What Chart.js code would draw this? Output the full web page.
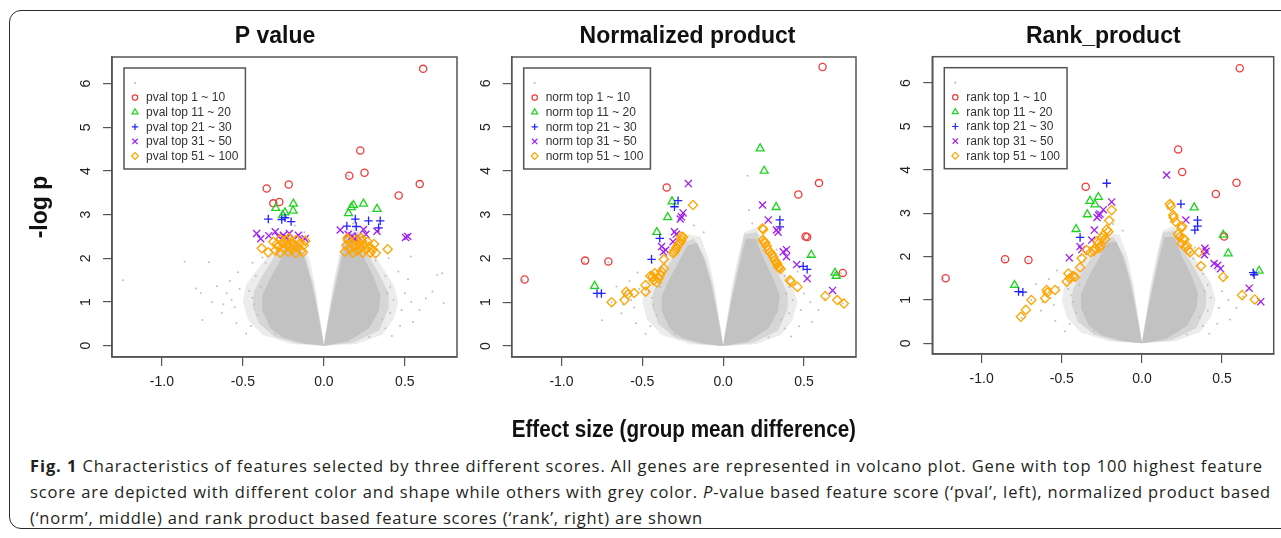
<!DOCTYPE html>
<html>
<head>
<meta charset="utf-8">
<script src="https://cdn.jsdelivr.net/npm/chart.js@4.4.1/dist/chart.umd.min.js"></script>
<style>
body { margin: 0; background: #fff; width: 1281px; height: 538px; overflow: hidden; position: relative; }
#frame { position: absolute; left: 9px; top: 10px; width: 1300px; height: 519px; border: 1.5px solid #2a2a2a; border-radius: 12px; box-sizing: border-box; }
canvas { position: absolute; top: 0; }
.cap { position: absolute; left: 30px; white-space: nowrap; font-family: "Open Sans", sans-serif; font-size: 16.5px; line-height: 20px; color: #231f20; }
</style>
</head>
<body>
<div id="frame"></div>
<canvas id="c1" width="470" height="450" style="left:0"></canvas>
<canvas id="c2" width="400" height="450" style="left:470px"></canvas>
<canvas id="c3" width="411" height="450" style="left:870px"></canvas>
<div class="cap" id="l1" style="top:456px"><b>Fig. 1</b> Characteristics of features selected by three different scores. All genes are represented in volcano plot. Gene with top 100 highest feature</div>
<div class="cap" id="l2" style="top:482px">score are depicted with different color and shape while others with grey color. <i>P</i>-value based feature score (‘pval’, left), normalized product based</div>
<div class="cap" id="l3" style="top:508px">(‘norm’, middle) and rank product based feature scores (‘rank’, right) are shown</div>
<script>
// ---- DATA ----
const ranges = ["1 ~ 10", "11 ~ 20", "21 ~ 30", "31 ~ 50", "51 ~ 100"];
const titles = ["P value", "Normalized product", "Rank_product"];
const prefixes = ["pval top", "norm top", "rank top"];
const xTicks = [-1.0, -0.5, 0.0, 0.5];
const yTicks = [0, 1, 2, 3, 4, 5, 6];

// grey cloud of all genes: outlines of the dense core, a middle band, the sparse halo, and loose dots
const coreLeft = [[0,0],[-0.12,0.05],[-0.25,0.18],[-0.33,0.4],[-0.38,0.8],[-0.38,1.15],[-0.33,1.55],[-0.27,1.95],[-0.22,2.3],[-0.16,2.35],[-0.12,2.0],[-0.08,1.5],[-0.05,1.0],[-0.025,0.5],[0,0]];
const coreRight = [[0,0],[0.025,0.5],[0.05,1.0],[0.08,1.5],[0.11,2.0],[0.14,2.45],[0.2,2.45],[0.25,2.0],[0.31,1.55],[0.35,1.15],[0.34,0.8],[0.28,0.4],[0.15,0.1],[0,0]];
const midLeft = [[0,0],[-0.16,0.05],[-0.3,0.2],[-0.4,0.5],[-0.44,0.9],[-0.43,1.25],[-0.38,1.6],[-0.32,1.95],[-0.26,2.35],[-0.18,2.45],[-0.11,2.0],[-0.065,1.4],[-0.035,0.8],[-0.01,0.3],[0,0]];
const midRight = [[0,0],[0.01,0.3],[0.035,0.8],[0.065,1.4],[0.10,2.0],[0.13,2.55],[0.21,2.6],[0.26,2.15],[0.34,1.65],[0.4,1.2],[0.4,0.85],[0.34,0.35],[0.18,0.07],[0,0]];
const haloLeft = [[0,0],[-0.2,0.04],[-0.38,0.25],[-0.47,0.6],[-0.5,1.0],[-0.48,1.4],[-0.40,1.8],[-0.30,2.25],[-0.22,2.55],[-0.14,2.5],[-0.09,2.0],[-0.05,1.3],[-0.02,0.5],[0,0]];
const haloRight = [[0,0],[0.02,0.5],[0.05,1.3],[0.09,2.0],[0.13,2.6],[0.2,2.7],[0.27,2.3],[0.36,1.8],[0.43,1.4],[0.46,1.0],[0.43,0.6],[0.36,0.25],[0.2,0.04],[0,0]];
const cloudDots = [[-1.24,1.5],[-0.86,1.92],[-0.71,1.91],[-0.79,1.31],[-0.76,1.2],[-0.69,1.0],[-0.75,0.59],[-0.60,1.2],[-0.63,0.75],[-0.57,1.05],[-0.55,0.88],[-0.66,1.36],[-0.58,1.48],[-0.53,1.68],[-0.54,0.52],[-0.48,0.28],[-0.62,0.95],[-0.52,1.3],
  [0.536,2.04],[0.63,1.08],[0.67,1.24],[0.70,1.62],[0.73,1.66],[0.74,0.97],[0.59,0.82],[0.55,0.55],[0.48,0.82],[0.50,1.2],[0.52,1.52],[0.54,1.0],[0.47,0.45],[0.42,0.22],[0.46,1.7],[0.40,2.0],
  [-0.38,2.02],[-0.44,1.9],[-0.33,2.2],[0.33,2.2],[0.18,2.8],[-0.12,2.6],[0.151,3.89],[0.16,3.1],[-0.18,2.75],
  [-0.45,0.45],[-0.43,0.95],[-0.46,1.25],[-0.42,1.6],[-0.36,1.9],[-0.41,0.7],[-0.44,1.1],[-0.39,1.35],[-0.35,2.05],[-0.27,2.4],[-0.3,0.28],
  [0.38,0.4],[0.41,0.75],[0.43,1.05],[0.41,1.35],[0.38,1.6],[0.32,1.95],[0.3,2.1],[0.24,2.5],[0.39,1.2],[0.36,0.6],[0.28,0.2]];

// P value panel
const pvalTop10 = [[0.613,6.34],[0.225,4.47],[0.251,3.96],[0.157,3.89],[0.592,3.70],[0.462,3.44],[-0.217,3.69],[-0.353,3.60],[-0.275,3.29],[-0.312,3.26]];
const pvalTop20 = [[-0.188,3.25],[-0.297,3.15],[-0.24,3.05],[-0.19,3.09],[-0.254,2.99],[0.183,3.22],[0.245,3.25],[0.328,3.13],[0.152,3.03],[0.17,3.17]];
const pvalTop30 = [[-0.343,2.90],[-0.26,2.89],[-0.202,2.84],[-0.24,2.93],[0.194,2.90],[0.142,2.74],[0.2,2.73],[0.276,2.86],[0.348,2.86],[0.338,2.70]];
const pvalTop50 = [[-0.415,2.57],[-0.39,2.45],[-0.30,2.61],[-0.213,2.57],[-0.157,2.53],[-0.116,2.45],[-0.25,2.53],[-0.28,2.50],[-0.23,2.47],[-0.34,2.52],
  [0.101,2.65],[0.245,2.66],[0.328,2.62],[0.173,2.51],[0.21,2.50],[0.504,2.48],[0.518,2.50],[0.15,2.55],[0.26,2.55],[0.19,2.45]];
const pvalTop100 = [[-0.384,2.23],[-0.343,2.14],[-0.312,2.38],[-0.281,2.27],[-0.30,2.18],[-0.27,2.13],[-0.255,2.35],[-0.245,2.22],[-0.235,2.42],[-0.228,2.30],[-0.22,2.15],[-0.21,2.26],[-0.2,2.38],
  [-0.195,2.2],[-0.185,2.3],[-0.175,2.12],[-0.17,2.42],[-0.16,2.25],[-0.15,2.34],[-0.14,2.18],[-0.125,2.3],[-0.115,2.4],[-0.27,2.44],[-0.29,2.33],[-0.215,2.46],[-0.13,2.14],
  [0.394,2.21],[0.287,2.13],[0.13,2.15],[0.14,2.3],[0.15,2.42],[0.16,2.22],[0.17,2.35],[0.18,2.13],[0.19,2.28],[0.2,2.42],[0.205,2.18],[0.215,2.33],[0.225,2.24],[0.235,2.4],
  [0.24,2.13],[0.25,2.3],[0.26,2.2],[0.27,2.38],[0.28,2.27],[0.3,2.2],[0.31,2.33],[0.145,2.46],[0.23,2.47],[0.32,2.12]];

// Normalized product panel
const normTop10 = [[0.615,6.37],[0.593,3.72],[0.465,3.46],[0.51,2.5],[0.52,2.49],[0.74,1.67],[-0.349,3.62],[-0.854,1.95],[-0.71,1.93],[-1.228,1.52]];
const normTop20 = [[0.229,4.51],[0.254,4.0],[0.328,3.17],[0.545,2.08],[0.692,1.67],[0.70,1.60],[-0.316,3.3],[-0.343,2.94],[-0.41,2.6],[-0.795,1.37]];
const normTop30 = [[0.351,2.88],[0.351,2.72],[0.495,1.82],[0.52,1.75],[-0.279,3.32],[-0.301,3.18],[-0.392,2.46],[-0.443,1.98],[-0.78,1.2],[-0.753,1.2]];
const normTop50 = [[0.244,3.22],[0.279,2.88],[0.33,2.65],[0.372,2.15],[0.392,2.2],[0.392,2.04],[0.455,1.86],[0.52,1.54],[0.677,1.27],[0.34,2.6],
  [-0.215,3.71],[-0.248,3.04],[-0.258,2.95],[-0.265,2.9],[-0.301,2.61],[-0.31,2.38],[-0.381,2.27],[-0.355,2.19],[-0.37,2.15],[-0.29,2.55]];
const normTop100 = [[0.244,2.69],[0.248,2.66],[0.245,2.42],[0.255,2.38],[0.26,2.35],[0.27,2.28],[0.279,2.19],[0.29,2.14],[0.30,2.1],[0.31,2.03],[0.32,1.96],
  [0.328,1.91],[0.335,1.87],[0.341,1.81],[0.347,1.79],[0.355,1.76],[0.413,1.5],[0.42,1.47],[0.46,1.35],[0.632,1.14],[0.706,1.05],[0.747,0.97],
  [-0.186,3.22],[-0.248,2.49],[-0.258,2.42],[-0.26,2.5],[-0.265,2.37],[-0.272,2.34],[-0.28,2.3],[-0.289,2.25],[-0.295,2.2],[-0.301,2.15],[-0.31,2.12],[-0.367,1.98],
  [-0.367,1.77],[-0.38,1.7],[-0.423,1.66],[-0.436,1.58],[-0.40,1.54],[-0.43,1.5],[-0.45,1.6],[-0.48,1.39],[-0.48,1.24],[-0.55,1.21],[-0.6,1.24],[-0.59,1.18],
  [-0.61,1.05],[-0.69,1.0],[-0.41,1.45],[-0.39,1.62]];

// Rank product panel
const rankTop10 = [[0.61,6.34],[0.226,4.47],[0.251,3.95],[0.59,3.7],[0.461,3.44],[0.513,2.46],[-0.351,3.61],[-0.854,1.94],[-0.708,1.92],[-1.225,1.5]];
const rankTop20 = [[0.326,3.13],[0.507,2.5],[0.538,2.07],[0.731,1.67],[-0.324,3.28],[-0.272,3.37],[-0.293,3.2],[-0.341,2.97],[-0.411,2.63],[-0.795,1.34]];
const rankTop30 = [[-0.22,3.69],[0.243,3.21],[0.347,2.84],[0.33,2.61],[0.347,2.7],[0.694,1.63],[0.70,1.58],[-0.386,2.44],[-0.77,1.19],[-0.743,1.18]];
const rankTop50 = [[0.154,3.88],[0.274,2.84],[0.393,2.19],[0.39,2.04],[0.45,1.84],[0.473,1.8],[0.49,1.72],[0.669,1.27],[0.741,0.96],[0.4,2.12],
  [-0.189,3.26],[-0.241,3.08],[-0.262,2.98],[-0.27,2.95],[-0.297,2.61],[-0.313,2.38],[-0.386,2.23],[-0.375,2.16],[-0.453,1.97],[-0.28,2.9]];
const rankTop100 = [[0.174,3.21],[0.18,3.16],[0.195,2.95],[0.198,2.9],[0.246,2.66],[0.25,2.7],[0.225,2.52],[0.257,2.41],[0.265,2.39],[0.246,2.3],[0.27,2.22],
  [0.28,2.25],[0.3,2.1],[0.355,2.1],[0.368,1.78],[0.507,1.53],[0.625,1.11],[0.704,1.01],[0.235,2.45],[0.29,2.15],[0.21,2.8],
  [-0.189,3.07],[-0.204,2.83],[-0.21,2.57],[-0.241,2.5],[-0.25,2.43],[-0.272,2.3],[-0.26,2.25],[-0.293,2.19],[-0.3,2.13],[-0.345,2.15],[-0.376,1.96],[-0.386,1.75],
  [-0.417,1.53],[-0.459,1.61],[-0.45,1.5],[-0.469,1.42],[-0.542,1.23],[-0.594,1.23],[-0.59,1.17],[-0.604,1.04],[-0.69,1.0],[-0.724,0.77],[-0.755,0.61],
  [-0.28,2.35],[-0.265,2.2],[-0.32,2.1],[-0.23,2.4],[-0.22,2.62],[-0.43,1.55]];

// ---- STYLE ----
const FONT = '"Liberation Sans", Arial, sans-serif';
const GREY = "#bebebe";
const marks = [
    { style: "circle",   color: "#f03a3a", r: 3.6 },
    { style: "triangle", color: "#1fd41f", r: 4.6 },
    { style: "cross",    color: "#2222ff", r: 4.2 },
    { style: "crossRot", color: "#a020f0", r: 5 },
    { style: "rectRot",  color: "#ffa500", r: 4.6 }
];

const toXY = arr => arr.map(p => ({ x: p[0], y: p[1] }));

function shape(arr, color, order) {
    return { data: toXY(arr), showLine: true, fill: "shape", backgroundColor: color,
             borderColor: "rgba(0,0,0,0)", borderWidth: 0, pointRadius: 0, tension: 0, order: order };
}

// legend symbol
function drawSym(ctx, style, x, y, r, color) {
    ctx.save();
    ctx.strokeStyle = color;
    ctx.fillStyle = color;
    ctx.lineWidth = 1.2;
    ctx.beginPath();
    if (style === "dot") {
        ctx.arc(x, y, r, 0, 2 * Math.PI);
        ctx.fill();
    } else if (style === "circle") {
        ctx.arc(x, y, r, 0, 2 * Math.PI);
        ctx.stroke();
    } else if (style === "triangle") {
        ctx.moveTo(x, y - r);
        ctx.lineTo(x + r * 0.866, y + r * 0.5);
        ctx.lineTo(x - r * 0.866, y + r * 0.5);
        ctx.closePath();
        ctx.stroke();
    } else if (style === "cross") {
        ctx.moveTo(x - r, y); ctx.lineTo(x + r, y);
        ctx.moveTo(x, y - r); ctx.lineTo(x, y + r);
        ctx.stroke();
    } else if (style === "crossRot") {
        const d = r * 0.707;
        ctx.moveTo(x - d, y - d); ctx.lineTo(x + d, y + d);
        ctx.moveTo(x + d, y - d); ctx.lineTo(x - d, y + d);
        ctx.stroke();
    } else {
        ctx.moveTo(x - r, y); ctx.lineTo(x, y - r); ctx.lineTo(x + r, y); ctx.lineTo(x, y + r);
        ctx.closePath();
        ctx.stroke();
    }
    ctx.restore();
}

// box, rotated y labels, panel title and legend, R style
const deco = {
    id: "deco",
    afterDatasetsDraw(chart, args, o) {
        const ctx = chart.ctx;
        const a = chart.chartArea;
        const y = chart.scales.y;
        ctx.save();
        ctx.strokeStyle = "#555";
        ctx.lineWidth = 1.5;
        ctx.strokeRect(a.left, a.top, a.right - a.left, a.bottom - a.top);

        ctx.fillStyle = "#222";
        ctx.font = "14px " + FONT;
        ctx.textAlign = "center";
        ctx.textBaseline = "middle";
        y.ticks.forEach(t => {
            ctx.save();
            ctx.translate(a.left - 26, y.getPixelForValue(t.value));
            ctx.rotate(-Math.PI / 2);
            ctx.fillText(String(t.value), 0, 0);
            ctx.restore();
        });

        ctx.fillStyle = "#111";
        ctx.font = "bold 23px " + FONT;
        ctx.fillText(o.title, o.titleX, 37);

        // legend
        ctx.font = "12px " + FONT;
        const bx = a.left + 12, by = a.top + 11;
        let tw = 0;
        o.labels.forEach(l => { tw = Math.max(tw, ctx.measureText(l).width); });
        const bw = 22 + tw + 7, bh = 101;
        ctx.fillStyle = "#fff";
        ctx.fillRect(bx, by, bw, bh);
        ctx.strokeStyle = "#555";
        ctx.lineWidth = 1.5;
        ctx.strokeRect(bx, by, bw, bh);
        drawSym(ctx, "dot", bx + 11, by + 15, 1.1, GREY);
        ctx.textAlign = "left";
        ctx.fillStyle = "#333";
        o.labels.forEach((l, i) => {
            const ly = by + 15 + (i + 1) * 14.6;
            const m = marks[i];
            drawSym(ctx, m.style, bx + 11, ly, m.r * 0.75, m.color);
            ctx.fillText(l, bx + 22, ly + 0.5);
        });
        ctx.restore();
    }
};

function makeChart(id, p) {
    const sets = [
        shape(haloLeft, "rgba(192,192,192,0.3)", 21),
        shape(haloRight, "rgba(192,192,192,0.3)", 21),
        shape(midLeft, "rgba(192,192,192,0.5)", 20),
        shape(midRight, "rgba(192,192,192,0.5)", 20),
        shape(coreLeft, "#c2c2c2", 19),
        shape(coreRight, "#c2c2c2", 19),
        { data: toXY(cloudDots), pointRadius: 1, pointBackgroundColor: GREY, pointBorderWidth: 0, order: 18 }
    ];
    p.groups.forEach((g, i) => {
        const m = marks[i];
        sets.push({ data: toXY(g), pointStyle: m.style, pointRadius: m.r, pointBorderColor: m.color,
                    pointBackgroundColor: "rgba(0,0,0,0)", pointBorderWidth: 1.3, order: 5 - i });
    });
    const axisGrid = { drawOnChartArea: false, drawTicks: true, tickLength: 9, color: "#555", lineWidth: 1.2 };
    return new Chart(document.getElementById(id), {
        type: "scatter",
        data: { datasets: sets },
        plugins: [deco],
        options: {
            responsive: false,
            animation: false,
            events: [],
            layout: { padding: { left: 0, right: p.padRight, top: p.top, bottom: 0 } },
            plugins: {
                legend: { display: false },
                tooltip: { enabled: false },
                deco: { title: p.title, titleX: p.titleX, labels: p.labels }
            },
            scales: {
                x: {
                    type: "linear", min: -1.308, max: 0.822,
                    afterBuildTicks: s => { s.ticks = xTicks.map(v => ({ value: v })); },
                    ticks: { color: "#222", font: { family: FONT, size: 14 }, padding: 8, callback: v => v.toFixed(1) },
                    grid: axisGrid,
                    border: { display: true, color: "#555", width: 1.5 },
                    title: { display: !!p.xTitle, text: p.xTitle || "", color: "#111",
                             font: { family: FONT, size: 23, weight: "bold" }, padding: { top: 0, bottom: 6 } },
                    afterFit: s => { s.height = p.xHeight; }
                },
                y: {
                    type: "linear", min: p.yMin, max: p.yMax,
                    afterBuildTicks: s => { s.ticks = yTicks.map(v => ({ value: v })); },
                    ticks: { color: "rgba(0,0,0,0)", font: { family: FONT, size: 14 } },
                    grid: axisGrid,
                    border: { display: true, color: "#555", width: 1.5 },
                    title: { display: !!p.yTitle, text: p.yTitle || "", color: "#111",
                             font: { family: FONT, size: 23, weight: "bold" }, padding: { top: 27 } },
                    afterFit: s => { s.width = p.yWidth; }
                }
            }
        }
    });
}

makeChart("c1", {
    groups: [pvalTop10, pvalTop20, pvalTop30, pvalTop50, pvalTop100],
    labels: ranges.map(r => prefixes[0] + " " + r),
    title: titles[0], titleX: 275, yTitle: "-log p",
    yWidth: 112, padRight: 13, top: 57, xHeight: 93, yMin: -0.259, yMax: 6.611
});
makeChart("c2", {
    groups: [normTop10, normTop20, normTop30, normTop50, normTop100],
    labels: ranges.map(r => prefixes[1] + " " + r),
    title: titles[1], titleX: 217.5, xTitle: "Effect size (group mean difference)",
    yWidth: 41.7, padRight: 14, top: 57, xHeight: 93, yMin: -0.251, yMax: 6.60
});
makeChart("c3", {
    groups: [rankTop10, rankTop20, rankTop30, rankTop50, rankTop100],
    labels: ranges.map(r => prefixes[2] + " " + r),
    title: titles[2], titleX: 233.3,
    yWidth: 62.3, padRight: 7.3, top: 56.7, xHeight: 96, yMin: -0.247, yMax: 6.607
});

// fit caption lines to their measured widths in the figure
[["l1", 1233], ["l2", 1241], ["l3", 673]].forEach(([id, target]) => {
    const el = document.getElementById(id);
    const w = el.getBoundingClientRect().width;
    const n = el.textContent.length;
    el.style.letterSpacing = ((target - w) / n) + "px";
});
</script>
</body>
</html>
